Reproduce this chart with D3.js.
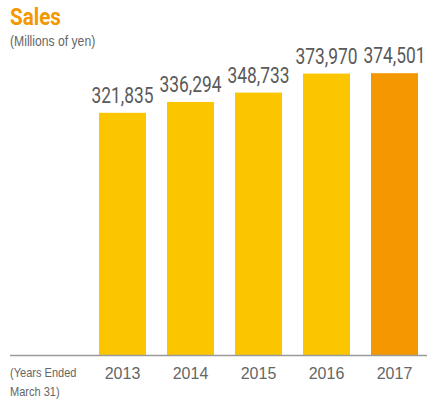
<!DOCTYPE html>
<html>
<head>
<meta charset="utf-8">
<script src="https://cdn.jsdelivr.net/npm/d3@7"></script>
<style>
  html, body { margin: 0; padding: 0; background: #fff; }
  svg { display: block; }
</style>
</head>
<body>
<svg id="chart" width="427" height="401"></svg>
<script>
// Net sales by fiscal year (millions of yen)
const years = ["2013", "2014", "2015", "2016", "2017"];
const sales = [321835, 336294, 348733, 373970, 374501];
const barColors = ["#FBC600", "#FBC600", "#FBC600", "#FBC600", "#F39800"];
const yDomain = [0, 400000];

const svg = d3.select("#chart");
const baseY = 355;

const x = d3.scaleBand()
  .domain(years)
  .range([99, 418])
  .paddingInner(0.309)
  .paddingOuter(0);

const y = d3.scaleLinear()
  .domain(yDomain)
  .range([baseY, baseY - 301]);

const data = years.map((yr, i) => ({ year: yr, value: sales[i], color: barColors[i] }));

// Title and unit note
svg.append("text")
  .attr("transform", "translate(10,25) scale(0.86,1)")
  .attr("font-family", "Roboto, 'Liberation Sans', sans-serif")
  .attr("font-weight", 700)
  .attr("font-size", 24)
  .attr("fill", "#F39800")
  .text("Sales");

svg.append("text")
  .attr("transform", "translate(10,46) scale(0.87,1)")
  .attr("font-family", "'Liberation Sans', Arial, sans-serif")
  .attr("font-size", 14)
  .attr("fill", "#666")
  .text("(Millions of yen)");

// Bars
svg.selectAll("rect.bar")
  .data(data)
  .join("rect")
  .attr("class", "bar")
  .attr("x", d => x(d.year))
  .attr("width", x.bandwidth())
  .attr("y", d => y(d.value))
  .attr("height", d => baseY - y(d.value))
  .attr("fill", d => d.color);

// Value labels
const fmt = d3.format(",");
svg.selectAll("text.val")
  .data(data)
  .join("text")
  .attr("class", "val")
  .attr("transform", d => `translate(${x(d.year) + x.bandwidth() / 2},${y(d.value) - 10}) scale(0.79,1)`)
  .attr("text-anchor", "middle")
  .attr("font-family", "Roboto, 'Liberation Sans', sans-serif")
  .attr("font-weight", 400)
  .attr("font-size", 22)
  .attr("fill", "#5a5a5a")
  .text(d => fmt(d.value));

// Baseline
svg.append("line")
  .attr("x1", 10).attr("x2", 427)
  .attr("y1", baseY + 0.5).attr("y2", baseY + 0.5)
  .attr("stroke", "#9a9a9a")
  .attr("stroke-width", 1.5);

// Category axis labels
const xAxis = d3.axisBottom(x).tickSize(0).tickPadding(0);
const gx = svg.append("g")
  .attr("transform", `translate(0,${baseY})`)
  .call(xAxis);
gx.select(".domain").remove();
gx.selectAll("text")
  .attr("dy", null)
  .attr("y", 24)
  .attr("font-family", "'Liberation Sans', Arial, sans-serif")
  .attr("font-size", 16)
  .attr("fill", "#666");

// Period note
const note = svg.append("text")
  .attr("transform", "translate(10,377) scale(0.85,1)")
  .attr("font-family", "'Liberation Sans', Arial, sans-serif")
  .attr("font-size", 13)
  .attr("fill", "#666");
note.append("tspan").attr("x", 0).attr("y", 0).text("(Years Ended");
note.append("tspan").attr("x", 0).attr("y", 19).text("March 31)");
</script>
</body>
</html>
